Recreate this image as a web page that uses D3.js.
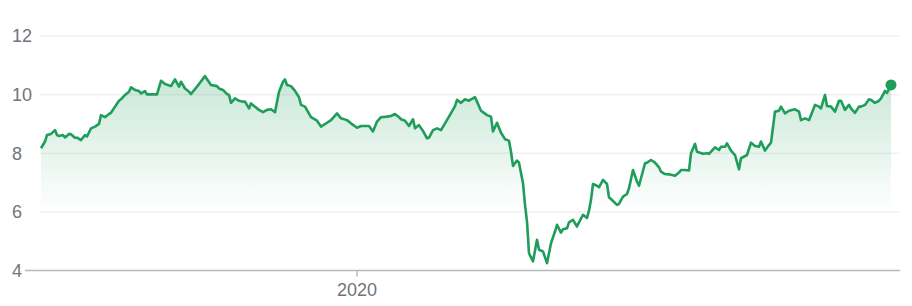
<!DOCTYPE html>
<html>
<head>
<meta charset="utf-8">
<script src="https://cdn.jsdelivr.net/npm/d3@7"></script>
<style>
  body { margin: 0; background: #fff; }
  svg { display: block; font-family: Arial, 'Liberation Sans', sans-serif; }
</style>
</head>
<body>
<svg id="chart" width="912" height="306"></svg>
<script>
// days since the first point
const days = [
  0, 2, 3, 5, 7, 8, 9, 11, 12, 14, 15, 17, 18, 20, 22, 23, 25, 27, 29, 30,
  32, 34, 35, 37, 39, 40, 42, 44, 45, 47, 49, 50, 52, 53, 58, 60, 62, 65, 67, 69,
  70, 72, 74, 75, 79, 82, 85, 88, 89, 91, 93, 94, 95, 97, 99, 101, 102, 104, 105, 107,
  109, 111, 113, 115, 117, 119, 121, 122, 123, 125, 127, 129, 130, 132, 135, 138, 140, 143, 145, 148,
  150, 153, 155, 158, 160, 164, 166, 168, 170, 173, 175, 177, 179, 180, 182, 184, 186, 187, 189, 191,
  193, 194, 196, 198, 200, 202, 204, 207, 208, 210, 212, 214, 215, 217, 218, 220, 223, 225, 226, 228,
  230, 232, 234, 235, 236, 238, 239, 241, 242, 243, 244, 246, 248, 249, 251, 253, 255, 257, 258, 260,
  261, 263, 264, 266, 268, 269, 271, 273, 274, 275, 276, 278, 279, 281, 283, 284, 286, 288, 289, 291,
  293, 294, 296, 298, 299, 302, 303, 305, 307, 309, 310, 312, 314, 317, 319, 320, 322, 324, 325, 327,
  328, 331, 333, 334, 337, 339, 340, 342, 343, 345, 347, 349, 350, 353, 355, 357, 359, 360, 362, 364,
  365, 367, 369, 370, 372, 374, 377, 379, 380, 382, 384, 385, 387, 389, 390, 392, 393, 395, 397, 399,
  400, 402, 404, 405, 407, 409, 410, 412, 414, 415, 417, 419, 420, 422, 423, 425
]
const prices = [
  8.17, 8.40, 8.62, 8.66, 8.79, 8.62, 8.59, 8.62, 8.54, 8.66, 8.65, 8.53, 8.53, 8.45, 8.62, 8.57, 8.85, 8.91, 9.00, 9.30,
  9.23, 9.34, 9.38, 9.59, 9.79, 9.84, 9.99, 10.10, 10.25, 10.16, 10.12, 10.04, 10.12, 10.01, 10.01, 10.47, 10.36, 10.29, 10.52, 10.27,
  10.44, 10.21, 10.10, 10.02, 10.36, 10.63, 10.33, 10.29, 10.21, 10.16, 10.02, 9.99, 9.72, 9.87, 9.79, 9.76, 9.76, 9.53, 9.70, 9.59,
  9.48, 9.40, 9.48, 9.50, 9.40, 10.10, 10.44, 10.52, 10.33, 10.29, 10.13, 9.91, 9.65, 9.59, 9.23, 9.11, 8.91, 9.04, 9.13, 9.36,
  9.19, 9.13, 9.02, 8.87, 8.93, 8.93, 8.74, 9.08, 9.23, 9.25, 9.27, 9.34, 9.23, 9.16, 9.11, 8.93, 9.16, 8.85, 8.96, 8.76,
  8.51, 8.53, 8.79, 8.85, 8.79, 9.02, 9.25, 9.61, 9.82, 9.72, 9.84, 9.79, 9.84, 9.91, 9.76, 9.45, 9.30, 9.25, 8.74, 9.04,
  8.70, 8.48, 8.43, 8.05, 7.57, 7.75, 7.68, 6.98, 6.24, 5.67, 4.59, 4.31, 5.05, 4.71, 4.65, 4.25, 4.93, 5.33, 5.56, 5.29,
  5.41, 5.44, 5.64, 5.73, 5.50, 5.64, 5.90, 5.79, 6.04, 6.41, 6.95, 6.89, 6.84, 7.09, 6.95, 6.50, 6.37, 6.24, 6.27, 6.52,
  6.61, 6.81, 7.43, 7.03, 6.89, 7.66, 7.68, 7.77, 7.68, 7.52, 7.37, 7.29, 7.28, 7.23, 7.34, 7.43, 7.43, 7.41, 8.00, 8.32,
  8.05, 7.98, 8.00, 7.98, 8.20, 8.11, 8.22, 8.22, 8.34, 8.09, 7.94, 7.45, 7.83, 7.94, 8.36, 8.25, 8.22, 8.40, 8.09, 8.28,
  8.36, 9.42, 9.45, 9.59, 9.36, 9.45, 9.50, 9.42, 9.13, 9.19, 9.13, 9.30, 9.65, 9.59, 9.53, 9.99, 9.61, 9.59, 9.42, 9.79,
  9.79, 9.48, 9.65, 9.53, 9.38, 9.59, 9.59, 9.65, 9.84, 9.82, 9.72, 9.79, 9.87, 10.13, 10.06, 10.33
]
const yTicks = [4, 6, 8, 10, 12]
const xTicks = ['2020-01-01']

const startDate = new Date(2019, 6, 27)
const endDate = new Date(2020, 8, 24)
const lineColor = '#1e9d5b'

const data = days.map((d, i) => ({ date: d3.timeDay.offset(startDate, d), price: prices[i] }))

const svg = d3.select('#chart')
const x = d3.scaleTime().domain([startDate, endDate]).range([41, 891])
const y = d3.scaleLinear().domain([4, 12]).range([270.5, 36])

const defs = svg.append('defs')
const grad = defs.append('linearGradient')
  .attr('id', 'fade')
  .attr('gradientUnits', 'userSpaceOnUse')
  .attr('x1', 0).attr('x2', 0)
  .attr('y1', y(10.6)).attr('y2', y(6))
grad.append('stop').attr('offset', 0).attr('stop-color', lineColor).attr('stop-opacity', 0.24)
grad.append('stop').attr('offset', 1).attr('stop-color', lineColor).attr('stop-opacity', 0)

// gridlines
svg.append('g')
  .selectAll('line')
  .data(yTicks.filter(t => t > 4))
  .join('line')
  .attr('x1', 40).attr('x2', 900)
  .attr('y1', d => y(d)).attr('y2', d => y(d))
  .attr('stroke', '#f1f1f1')
  .attr('stroke-width', 1.5)

svg.append('g')
  .selectAll('text')
  .data(yTicks)
  .join('text')
  .attr('x', 12)
  .attr('y', d => y(d))
  .attr('dy', '0.35em')
  .attr('fill', '#70757a')
  .attr('font-size', 18)
  .text(d => d)

// area + line
svg.append('path')
  .datum(data)
  .attr('fill', 'url(#fade)')
  .attr('d', d3.area().x(d => x(d.date)).y0(y(4)).y1(d => y(d.price)))

svg.append('path')
  .datum(data)
  .attr('fill', 'none')
  .attr('stroke', lineColor)
  .attr('stroke-width', 2.6)
  .attr('stroke-linejoin', 'round')
  .attr('d', d3.line().x(d => x(d.date)).y(d => y(d.price)))

// baseline + x ticks
svg.append('line')
  .attr('x1', 25).attr('x2', 900)
  .attr('y1', y(4)).attr('y2', y(4))
  .attr('stroke', '#b8b8b8')
  .attr('stroke-width', 1.5)

const xt = svg.append('g')
  .selectAll('g')
  .data(xTicks.map(d3.isoParse))
  .join('g')
  .attr('transform', d => 'translate(' + x(d) + ',0)')
xt.append('line')
  .attr('y1', y(4)).attr('y2', y(4) + 6)
  .attr('stroke', '#b8b8b8')
  .attr('stroke-width', 1.5)
xt.append('text')
  .attr('y', 290)
  .attr('dy', '0.35em')
  .attr('text-anchor', 'middle')
  .attr('fill', '#70757a')
  .attr('font-size', 18)
  .text(d => d3.timeFormat('%Y')(d))

const last = data[data.length - 1]
svg.append('circle')
  .attr('cx', x(last.date))
  .attr('cy', y(last.price))
  .attr('r', 5.5)
  .attr('fill', lineColor)
</script>
</body>
</html>
